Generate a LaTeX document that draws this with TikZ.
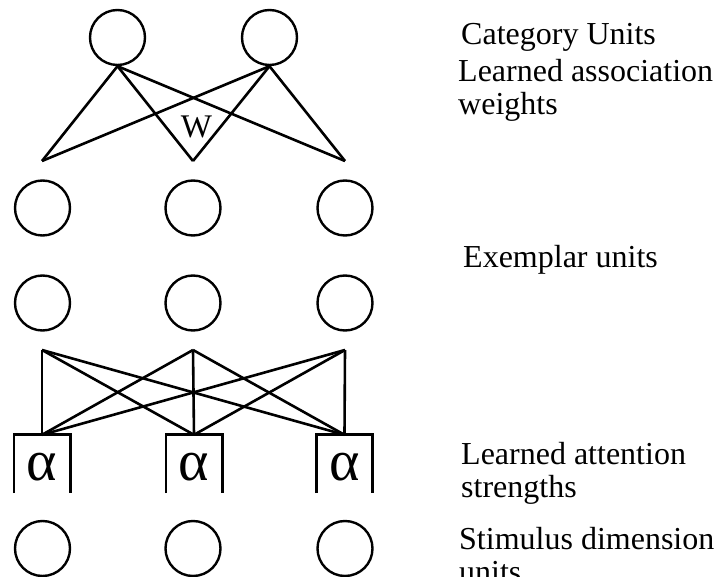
\documentclass[tikz,border=0pt]{standalone}
\usepackage{fontspec}
\setmainfont{Liberation Serif}
\begin{document}
\begin{tikzpicture}[x=1pt,y=-1pt,
  unit/.style={circle,draw,line width=2.4pt,minimum size=55pt,inner sep=0pt},
  wire/.style={line width=2.6pt,line join=miter},
  gate/.style={minimum width=56pt,minimum height=58pt,inner sep=0pt},
  gatelabel/.style={inner sep=0pt,font=\fontsize{58}{58}\selectfont},
  label/.style={anchor=base west,inner sep=0pt,align=left,
    font=\fontsize{32}{33}\selectfont}]
\useasboundingbox (0,0) rectangle (716,577);

% category units
\node[unit] (c1) at (117.5,37.5) {};
\node[unit] (c2) at (269.5,37.5) {};

% free ends of the association weights
\coordinate (w1) at (42,161);
\coordinate (w2) at (193,161);
\coordinate (w3) at (345,161);
\foreach \c in {c1,c2}
  \foreach \w in {w1,w2,w3}
    \draw[wire] (\c.south) -- (\w);
\node[font=\fontsize{33}{33}\selectfont,inner sep=0pt] (wl) at (196.5,127) {W};

% exemplar units
\node[unit] (e1) at (42.5,208) {};
\node[unit] (e2) at (193,208) {};
\node[unit] (e3) at (345,208) {};
\node[unit] (f1) at (42.5,303) {};
\node[unit] (f2) at (193,303) {};
\node[unit] (f3) at (345,303) {};

% attention gates: open-bottomed boxes holding an alpha
\foreach \n/\x in {1/42,2/194,3/344.5} {
  \node[gate] (a\n) at (\x,464) {};
  \node[gatelabel] (g\n) at ([yshift=-3pt]a\n.center) {α};
  \draw[wire] (a\n.south west) -- (a\n.north west) -- (a\n.north east) -- (a\n.south east);
}

% links from exemplar layer to gates
\coordinate (t1) at (42,350);
\coordinate (t2) at (193,350);
\coordinate (t3) at (345,350);
\foreach \t in {t1,t2,t3}
  \foreach \a in {a1,a2,a3}
    \draw[wire] (\t) -- (\a.north);

% stimulus dimension units
\node[unit] (s1) at (42.5,548.5) {};
\node[unit] (s2) at (193,548.5) {};
\node[unit] (s3) at (345,548.5) {};

% layer labels (base anchor sits on the last line)
\node[label] (l1) at (461,45) {Category Units};
\node[label] (l2) at (458,115) {Learned association\\weights};
\node[label] (l3) at (463,268) {Exemplar units};
\node[label] (l4) at (461,498) {Learned attention\\strengths};
\node[label] (l5) at (459,583) {Stimulus dimension\\units};
\end{tikzpicture}
\end{document}
